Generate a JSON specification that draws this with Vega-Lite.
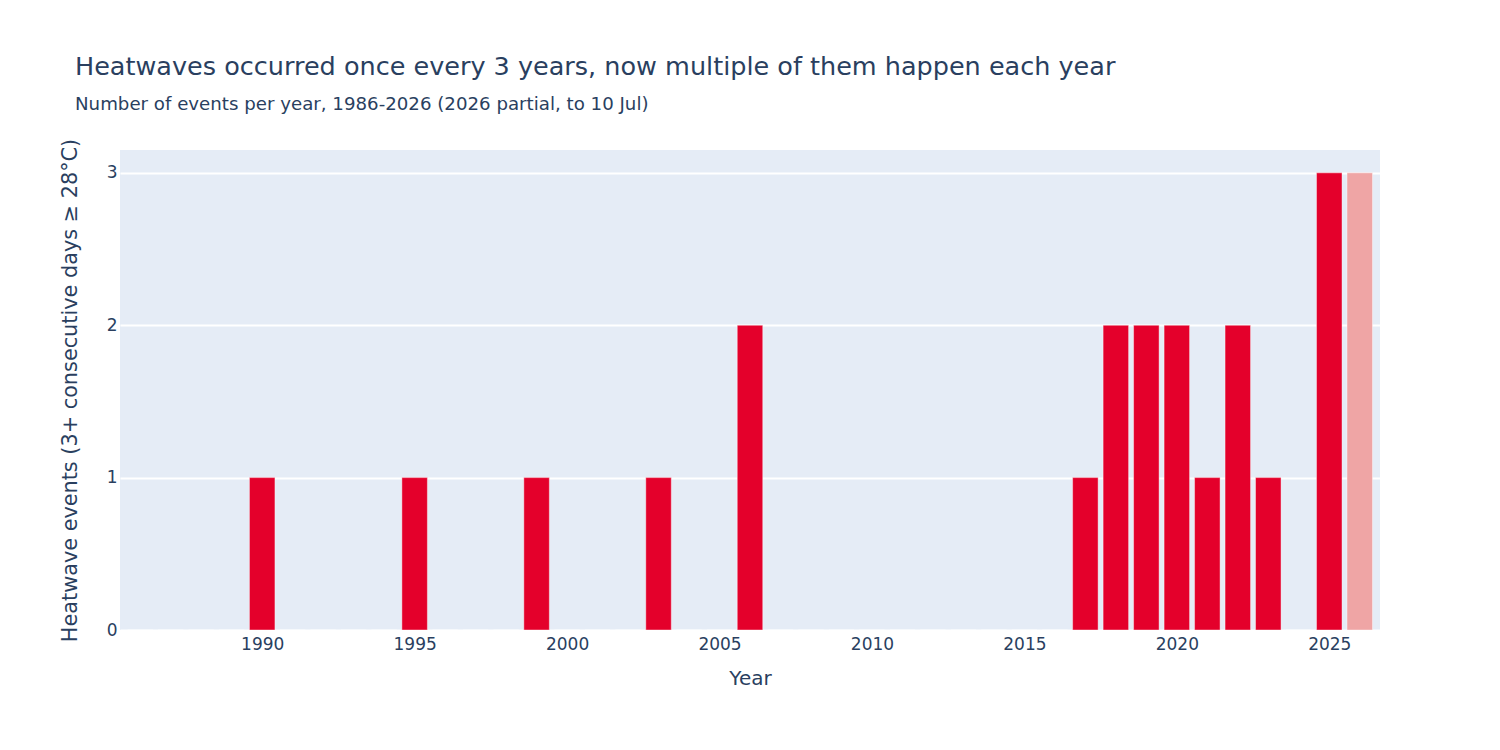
{
  "$schema": "https://vega.github.io/schema/vega-lite/v6.json",
  "width": 1260,
  "height": 480,
  "autosize": {"type": "none"},
  "padding": {"left": 120, "top": 150, "right": 120, "bottom": 120},
  "background": "#ffffff",
  "title": {
    "text": "Heatwaves occurred once every 3 years, now multiple of them happen each year",
    "subtitle": "Number of events per year, 1986-2026 (2026 partial, to 10 Jul)",
    "anchor": "start",
    "frame": "group",
    "dx": -45,
    "offset": 25,
    "font": "DejaVu Sans",
    "fontSize": 25.5,
    "fontWeight": "normal",
    "color": "#2a3f5f",
    "subtitleFont": "DejaVu Sans",
    "subtitleFontSize": 18.2,
    "subtitleColor": "#2a3f5f",
    "subtitlePadding": 16
  },
  "config": {
    "view": {"fill": "#E5ECF6", "stroke": null},
    "axis": {
      "labelFont": "DejaVu Sans",
      "titleFont": "DejaVu Sans",
      "labelColor": "#2a3f5f",
      "titleColor": "#2a3f5f",
      "labelFontSize": 17,
      "titleFontSize": 20,
      "titleFontWeight": "normal",
      "domain": false,
      "ticks": false
    }
  },
  "data": {
    "values": [
      {"year": 1986, "events": 0, "status": "complete"},
      {"year": 1987, "events": 0, "status": "complete"},
      {"year": 1988, "events": 0, "status": "complete"},
      {"year": 1989, "events": 0, "status": "complete"},
      {"year": 1990, "events": 1, "status": "complete"},
      {"year": 1991, "events": 0, "status": "complete"},
      {"year": 1992, "events": 0, "status": "complete"},
      {"year": 1993, "events": 0, "status": "complete"},
      {"year": 1994, "events": 0, "status": "complete"},
      {"year": 1995, "events": 1, "status": "complete"},
      {"year": 1996, "events": 0, "status": "complete"},
      {"year": 1997, "events": 0, "status": "complete"},
      {"year": 1998, "events": 0, "status": "complete"},
      {"year": 1999, "events": 1, "status": "complete"},
      {"year": 2000, "events": 0, "status": "complete"},
      {"year": 2001, "events": 0, "status": "complete"},
      {"year": 2002, "events": 0, "status": "complete"},
      {"year": 2003, "events": 1, "status": "complete"},
      {"year": 2004, "events": 0, "status": "complete"},
      {"year": 2005, "events": 0, "status": "complete"},
      {"year": 2006, "events": 2, "status": "complete"},
      {"year": 2007, "events": 0, "status": "complete"},
      {"year": 2008, "events": 0, "status": "complete"},
      {"year": 2009, "events": 0, "status": "complete"},
      {"year": 2010, "events": 0, "status": "complete"},
      {"year": 2011, "events": 0, "status": "complete"},
      {"year": 2012, "events": 0, "status": "complete"},
      {"year": 2013, "events": 0, "status": "complete"},
      {"year": 2014, "events": 0, "status": "complete"},
      {"year": 2015, "events": 0, "status": "complete"},
      {"year": 2016, "events": 0, "status": "complete"},
      {"year": 2017, "events": 1, "status": "complete"},
      {"year": 2018, "events": 2, "status": "complete"},
      {"year": 2019, "events": 2, "status": "complete"},
      {"year": 2020, "events": 2, "status": "complete"},
      {"year": 2021, "events": 1, "status": "complete"},
      {"year": 2022, "events": 2, "status": "complete"},
      {"year": 2023, "events": 1, "status": "complete"},
      {"year": 2024, "events": 0, "status": "complete"},
      {"year": 2025, "events": 3, "status": "complete"},
      {"year": 2026, "events": 3, "status": "partial"}
    ]
  },
  "mark": {"type": "bar", "width": 25.5, "stroke": "#ffffff", "strokeWidth": 0.6, "strokeOpacity": 0.7},
  "encoding": {
    "x": {
      "field": "year",
      "type": "quantitative",
      "title": "Year",
      "scale": {"domain": [1985.5, 2026.5], "nice": false, "zero": false},
      "axis": {"values": [1990, 1995, 2000, 2005, 2010, 2015, 2020, 2025], "format": "d", "grid": false, "labelPadding": 6, "titlePadding": 16}
    },
    "y": {
      "field": "events",
      "type": "quantitative",
      "title": "Heatwave events (3+ consecutive days ≥ 28°C)",
      "scale": {"domain": [0, 3.15], "nice": false},
      "axis": {"values": [0, 1, 2, 3], "gridColor": "#ffffff", "gridWidth": 2, "gridOpacity": 1, "labelPadding": 3, "titlePadding": 26, "titleFontSize": 20.8}
    },
    "color": {
      "field": "status",
      "type": "nominal",
      "scale": {"domain": ["complete", "partial"], "range": ["#E4002B", "#EFA5A5"]},
      "legend": null
    }
  }
}
